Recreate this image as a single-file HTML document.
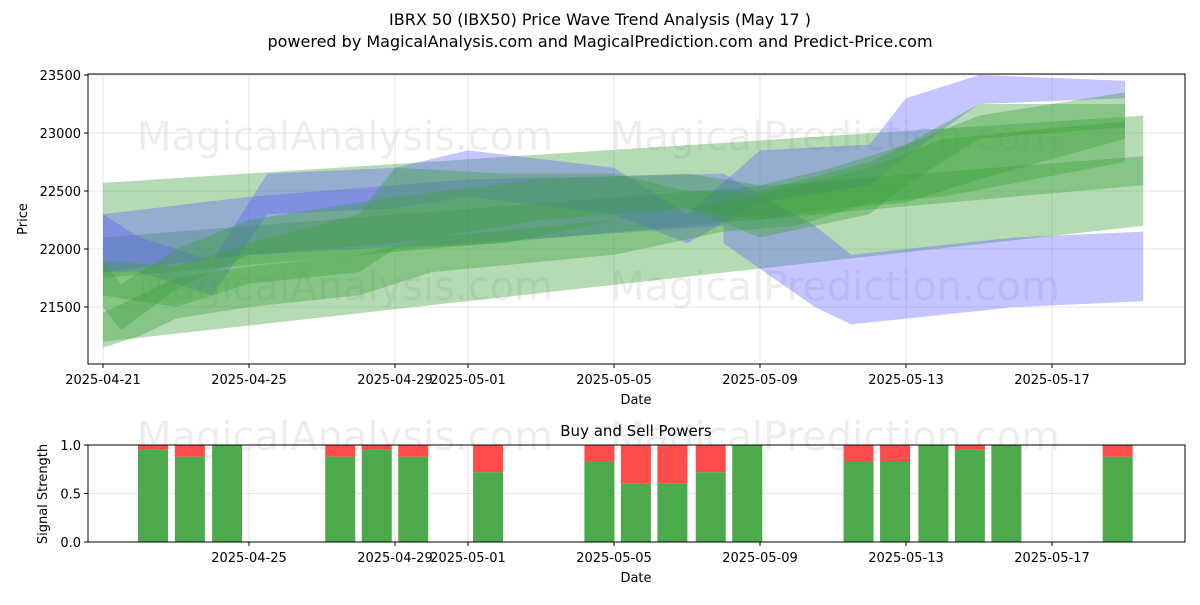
<!DOCTYPE html>
<html><head><meta charset="utf-8"><style>
body{margin:0;background:#fff;font-family:"Liberation Sans","DejaVu Sans",sans-serif}
text{font-family:"DejaVu Sans","Liberation Sans",sans-serif}
</style></head><body>
<svg id="c" width="1200" height="600" xmlns="http://www.w3.org/2000/svg">
<defs><clipPath id="cp"><rect x="88" y="74" width="1097" height="290"/></clipPath></defs>
<rect width="1200" height="600" fill="#fff"/>
<text x="600" y="25" text-anchor="middle" font-size="16">IBRX 50 (IBX50) Price Wave Trend Analysis (May 17 )</text>
<text x="600" y="47" text-anchor="middle" font-size="16">powered by MagicalAnalysis.com and MagicalPrediction.com and Predict-Price.com</text>
<g id="main"></g>
<g id="sub"></g>
</svg>
<script>
const xTickLabels=["2025-04-21","2025-04-25","2025-04-29","2025-05-01","2025-05-05","2025-05-09","2025-05-13","2025-05-17"];
const xTickDays=[0,4,8,10,14,18,22,26];
const yTicks=[21500,22000,22500,23000,23500];
const bandDays=[
 [0,28.5],[0,28.5],[0,4,10,17],[17,19.5,20.5,22,25,28.5],
 [0,1,3,4.5,8,10,14,16,18,21,22,24,28],
 [0,2,4,7,8,11,14,16,18,21,22,24,28],
 [0,1,2,4,7,9,14,17,19,21,23,28],
 [0,0.5,2,4,8,12,16,18,20,22,24,28]
];
const bandLow=[
 [21200,22200],[21750,22550],[21800,21950,22050,22200],[22050,21500,21350,21400,21500,21550],
 [21800,21800,21600,22300,22350,22450,22300,22050,22400,22550,22800,23250,23300],
 [21600,21500,21700,21800,22000,22050,22250,22350,22100,22300,22550,22950,23050],
 [21150,21250,21400,21500,21600,21800,21950,22150,22200,22400,22450,22750],
 [21500,21300,21650,21950,22050,22250,22350,22250,22350,22400,22600,22950]
];
const bandHigh=[
 [22570,23150],[22100,22800],[22300,22450,22600,22650],[22650,22200,21950,22000,22100,22150],
 [22300,22100,21900,22650,22700,22850,22700,22300,22850,22900,23300,23500,23450],
 [21900,21850,22050,22300,22700,22650,22650,22500,22500,22750,22900,23250,23250],
 [21450,21600,21750,21850,21950,22100,22250,22400,22550,22700,22950,23100],
 [21900,21700,22000,22250,22450,22600,22650,22550,22700,22900,23150,23350]
];
const bandColor=["g","g","b","b","b","g","g","g"];
const barDays=[1.37,2.38,3.4,6.5,7.5,8.5,10.55,13.6,14.6,15.6,16.65,17.65,20.7,21.7,22.75,23.75,24.75,27.8];
const buyVals=[0.95,0.88,1.0,0.88,0.95,0.88,0.72,0.83,0.6,0.6,0.72,1.0,0.83,0.83,1.0,0.95,1.0,0.88];
const sigTicks=[0,0.5,1.0];

const NS="http://www.w3.org/2000/svg";
const L=88,R=1185,T1=74,B1=364,T2=445,B2=542;
const xs=d=>103+d*36.5;
const ys=v=>249-(v-22000)*0.116;
const ys2=v=>B2-v*(B2-T2);
function mk(tag,at,p){const e=document.createElementNS(NS,tag);for(const k in at)e.setAttribute(k,at[k]);p.appendChild(e);return e;}
const main=document.getElementById('main'),sub=document.getElementById('sub');

[[345,150,"MagicalAnalysis.com"],[835,150,"MagicalPrediction.com"],[345,300,"MagicalAnalysis.com"],[835,300,"MagicalPrediction.com"],[345,450,"MagicalAnalysis.com"],[835,450,"MagicalPrediction.com"]].forEach(w=>{
 const t=mk('text',{x:w[0],y:w[1],'text-anchor':'middle','font-size':40,fill:'#000','fill-opacity':0.07},main);t.textContent=w[2];
 });

xTickDays.forEach((d,i)=>{
 const g=mk('line',{x1:xs(d),x2:xs(d),y1:T1,y2:B1,stroke:'#ddd','stroke-width':0.8},main);
 
 mk('line',{x1:xs(d),x2:xs(d),y1:B1,y2:B1+4,stroke:'#000'},main);
 const t=mk('text',{x:xs(d),y:B1+20,'text-anchor':'middle','font-size':13},main);t.textContent=xTickLabels[i];
 
 if(i>0){
 mk('line',{x1:xs(d),x2:xs(d),y1:T2,y2:B2,stroke:'#ddd','stroke-width':0.8},sub);
 mk('line',{x1:xs(d),x2:xs(d),y1:B2,y2:B2+4,stroke:'#000'},sub);
 const t2=mk('text',{x:xs(d),y:B2+20,'text-anchor':'middle','font-size':13},sub);t2.textContent=xTickLabels[i];
 }
});
yTicks.forEach(v=>{
 mk('line',{x1:L,x2:R,y1:ys(v),y2:ys(v),stroke:'#ddd','stroke-width':0.8},main);
 mk('line',{x1:L-4,x2:L,y1:ys(v),y2:ys(v),stroke:'#000'},main);
 const t=mk('text',{x:L-7,y:ys(v)+5,'text-anchor':'end','font-size':13},main);t.textContent=v;
 
});
const bg=mk('g',{'clip-path':'url(#cp)'},main);
bandDays.forEach((ds,i)=>{
 let pts=ds.map((d,j)=>xs(d)+','+ys(bandHigh[i][j]));
 pts=pts.concat(ds.map((d,j)=>xs(d)+','+ys(bandLow[i][j])).reverse());
 const p=mk('polygon',{points:pts.join(' '),fill:bandColor[i]=='g'?'rgb(60,160,60)':'rgb(90,90,255)','fill-opacity':bandColor[i]=='g'?0.38:0.35},bg);
 
});
mk('rect',{x:L,y:T1,width:R-L,height:B1-T1,fill:'none',stroke:'#000','stroke-width':1},main);
let t=mk('text',{x:636,y:404,'text-anchor':'middle','font-size':13},main);t.textContent='Date';

t=mk('text',{x:27,y:219,'text-anchor':'middle','font-size':13,transform:'rotate(-90 27 219)'},main);t.textContent='Price';


sigTicks.forEach(v=>{
 mk('line',{x1:L,x2:R,y1:ys2(v),y2:ys2(v),stroke:'#ddd','stroke-width':0.8},sub);
 mk('line',{x1:L-4,x2:L,y1:ys2(v),y2:ys2(v),stroke:'#000'},sub);
 const t=mk('text',{x:L-7,y:ys2(v)+5,'text-anchor':'end','font-size':13},sub);t.textContent=v.toFixed(1);
 
});
barDays.forEach((d,i)=>{
 const w=30,x=xs(d)-w/2;
 const g=mk('rect',{x:x,y:ys2(buyVals[i]),width:w,height:ys2(0)-ys2(buyVals[i]),fill:'#4caa4c'},sub);
 
 const r=mk('rect',{x:x,y:ys2(1),width:w,height:ys2(buyVals[i])-ys2(1),fill:'#ff4d4d'},sub);
 
});
mk('rect',{x:L,y:T2,width:R-L,height:B2-T2,fill:'none',stroke:'#000','stroke-width':1},sub);
t=mk('text',{x:636,y:436,'text-anchor':'middle','font-size':15},sub);t.textContent='Buy and Sell Powers';

t=mk('text',{x:636,y:582,'text-anchor':'middle','font-size':13},sub);t.textContent='Date';

t=mk('text',{x:47,y:494,'text-anchor':'middle','font-size':13,transform:'rotate(-90 47 494)'},sub);t.textContent='Signal Strength';

</script>
</body></html>
